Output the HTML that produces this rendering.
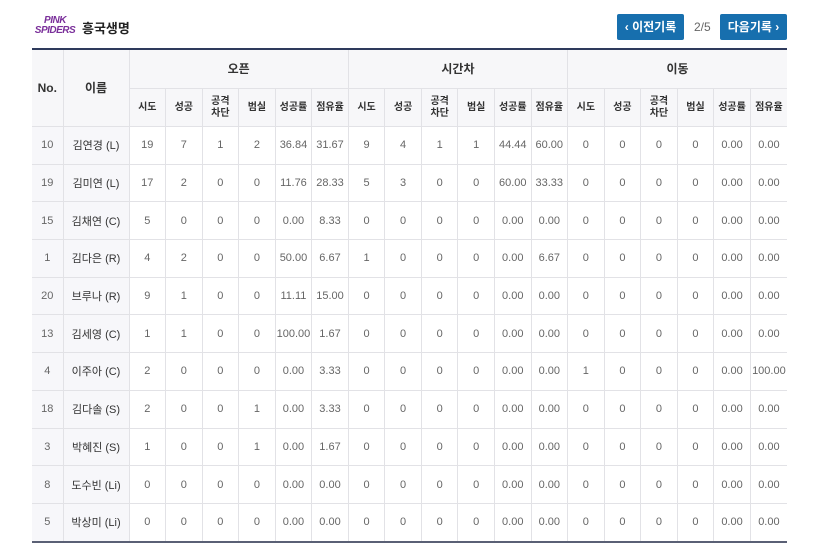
<!DOCTYPE html>
<html><head><meta charset="utf-8"><style>
body{margin:0;background:#fff;width:828px;height:558px;overflow:hidden;font-family:"Liberation Sans","Noto Sans CJK KR",sans-serif;}
.logo{position:absolute;left:33px;top:16px;width:44px;text-align:center;font-weight:bold;font-style:italic;color:#7a2f9a;line-height:10px;font-size:10px;letter-spacing:-0.5px}
.title{position:absolute;left:82px;top:18px;font-size:13px;font-weight:bold;color:#222}
.btn{position:absolute;top:14px;height:26px;width:67px;background:#176fae;color:#fff;font-size:12px;font-weight:bold;line-height:26px;text-align:center;border-radius:2px}
.pg{position:absolute;left:694px;top:20px;font-size:12px;color:#666}
table{position:absolute;left:32px;top:48px;width:755px;border-collapse:collapse;table-layout:fixed;border-top:2px solid #2e3a5c;border-bottom:2px solid #5a6075}
td,th{border:1px solid #e2e2e6;text-align:center;font-size:11px;color:#666;height:36.7px;padding:0}
th{background:#f7f7f9;color:#333;font-weight:bold;font-size:10px;line-height:12px}
th.g{font-size:12px;height:38px}
tr td:first-child,tr td:nth-child(2){background:#f7f7fa}
tr td:nth-child(2){color:#333;font-size:11px}
table tr>*:first-child{border-left:none}
table tr>*:last-child{border-right:none}
</style></head><body>
<div class="logo">PINK<br>SPIDERS</div>
<div class="title">흥국생명</div>
<div class="btn" style="left:617px">‹ 이전기록</div>
<div class="pg">2/5</div>
<div class="btn" style="left:720px">다음기록 ›</div>
<table>
<colgroup><col style="width:31px"><col style="width:66px"><col span="18"></colgroup>
<tr><th rowspan="2" class="g">No.</th><th rowspan="2" class="g">이름</th><th colspan="6" class="g">오픈</th><th colspan="6" class="g">시간차</th><th colspan="6" class="g">이동</th></tr>
<tr style="height:38px">
<th>시도</th><th>성공</th><th>공격<br>차단</th><th>범실</th><th>성공률</th><th>점유율</th>
<th>시도</th><th>성공</th><th>공격<br>차단</th><th>범실</th><th>성공률</th><th>점유율</th>
<th>시도</th><th>성공</th><th>공격<br>차단</th><th>범실</th><th>성공률</th><th>점유율</th></tr>
<tr><td>10</td><td>김연경 (L)</td><td>19</td><td>7</td><td>1</td><td>2</td><td>36.84</td><td>31.67</td><td>9</td><td>4</td><td>1</td><td>1</td><td>44.44</td><td>60.00</td><td>0</td><td>0</td><td>0</td><td>0</td><td>0.00</td><td>0.00</td></tr>
<tr><td>19</td><td>김미연 (L)</td><td>17</td><td>2</td><td>0</td><td>0</td><td>11.76</td><td>28.33</td><td>5</td><td>3</td><td>0</td><td>0</td><td>60.00</td><td>33.33</td><td>0</td><td>0</td><td>0</td><td>0</td><td>0.00</td><td>0.00</td></tr>
<tr><td>15</td><td>김채연 (C)</td><td>5</td><td>0</td><td>0</td><td>0</td><td>0.00</td><td>8.33</td><td>0</td><td>0</td><td>0</td><td>0</td><td>0.00</td><td>0.00</td><td>0</td><td>0</td><td>0</td><td>0</td><td>0.00</td><td>0.00</td></tr>
<tr><td>1</td><td>김다은 (R)</td><td>4</td><td>2</td><td>0</td><td>0</td><td>50.00</td><td>6.67</td><td>1</td><td>0</td><td>0</td><td>0</td><td>0.00</td><td>6.67</td><td>0</td><td>0</td><td>0</td><td>0</td><td>0.00</td><td>0.00</td></tr>
<tr><td>20</td><td>브루나 (R)</td><td>9</td><td>1</td><td>0</td><td>0</td><td>11.11</td><td>15.00</td><td>0</td><td>0</td><td>0</td><td>0</td><td>0.00</td><td>0.00</td><td>0</td><td>0</td><td>0</td><td>0</td><td>0.00</td><td>0.00</td></tr>
<tr><td>13</td><td>김세영 (C)</td><td>1</td><td>1</td><td>0</td><td>0</td><td>100.00</td><td>1.67</td><td>0</td><td>0</td><td>0</td><td>0</td><td>0.00</td><td>0.00</td><td>0</td><td>0</td><td>0</td><td>0</td><td>0.00</td><td>0.00</td></tr>
<tr><td>4</td><td>이주아 (C)</td><td>2</td><td>0</td><td>0</td><td>0</td><td>0.00</td><td>3.33</td><td>0</td><td>0</td><td>0</td><td>0</td><td>0.00</td><td>0.00</td><td>1</td><td>0</td><td>0</td><td>0</td><td>0.00</td><td>100.00</td></tr>
<tr><td>18</td><td>김다솔 (S)</td><td>2</td><td>0</td><td>0</td><td>1</td><td>0.00</td><td>3.33</td><td>0</td><td>0</td><td>0</td><td>0</td><td>0.00</td><td>0.00</td><td>0</td><td>0</td><td>0</td><td>0</td><td>0.00</td><td>0.00</td></tr>
<tr><td>3</td><td>박혜진 (S)</td><td>1</td><td>0</td><td>0</td><td>1</td><td>0.00</td><td>1.67</td><td>0</td><td>0</td><td>0</td><td>0</td><td>0.00</td><td>0.00</td><td>0</td><td>0</td><td>0</td><td>0</td><td>0.00</td><td>0.00</td></tr>
<tr><td>8</td><td>도수빈 (Li)</td><td>0</td><td>0</td><td>0</td><td>0</td><td>0.00</td><td>0.00</td><td>0</td><td>0</td><td>0</td><td>0</td><td>0.00</td><td>0.00</td><td>0</td><td>0</td><td>0</td><td>0</td><td>0.00</td><td>0.00</td></tr>
<tr><td>5</td><td>박상미 (Li)</td><td>0</td><td>0</td><td>0</td><td>0</td><td>0.00</td><td>0.00</td><td>0</td><td>0</td><td>0</td><td>0</td><td>0.00</td><td>0.00</td><td>0</td><td>0</td><td>0</td><td>0</td><td>0.00</td><td>0.00</td></tr>
</table>
</body></html>
